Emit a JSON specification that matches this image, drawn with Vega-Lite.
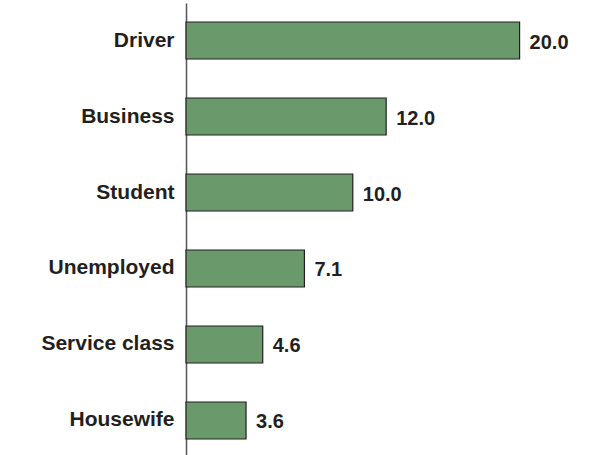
{
  "$schema": "https://vega.github.io/schema/vega-lite/v6.json",
  "autosize": "none",
  "width": 420,
  "height": 455,
  "padding": {"left": 186, "top": 3, "right": 6, "bottom": 0},
  "background": "white",
  "data": {"values": [
    {"category": "Driver", "value": 20.0},
    {"category": "Business", "value": 12.0},
    {"category": "Student", "value": 10.0},
    {"category": "Unemployed", "value": 7.1},
    {"category": "Service class", "value": 4.6},
    {"category": "Housewife", "value": 3.6}
  ]},
  "config": {"view": {"stroke": null}, "font": "Liberation Sans"},
  "encoding": {
    "y": {"field": "category", "type": "nominal", "sort": null,
      "scale": {"paddingInner": 0.513, "paddingOuter": 0.25},
      "axis": {"title": null, "ticks": false, "labelFont": "Liberation Sans", "labelFontWeight": "bold", "labelFontSize": 21, "labelColor": "#231f20", "labelPadding": 12, "domainColor": "#555555", "domainWidth": 1.5}},
    "x": {"field": "value", "type": "quantitative", "scale": {"domain": [0, 25.18]}, "axis": null}
  },
  "layer": [
    {"mark": {"type": "bar", "fill": "#6a9a6c", "stroke": "#231f20", "strokeWidth": 1.2}},
    {"mark": {"type": "text", "align": "left", "dx": 10, "font": "Liberation Sans", "fontWeight": "bold", "fontSize": 20, "color": "#231f20", "dy": 2},
     "encoding": {"text": {"field": "value", "type": "quantitative", "format": ".1f"}}}
  ]
}
